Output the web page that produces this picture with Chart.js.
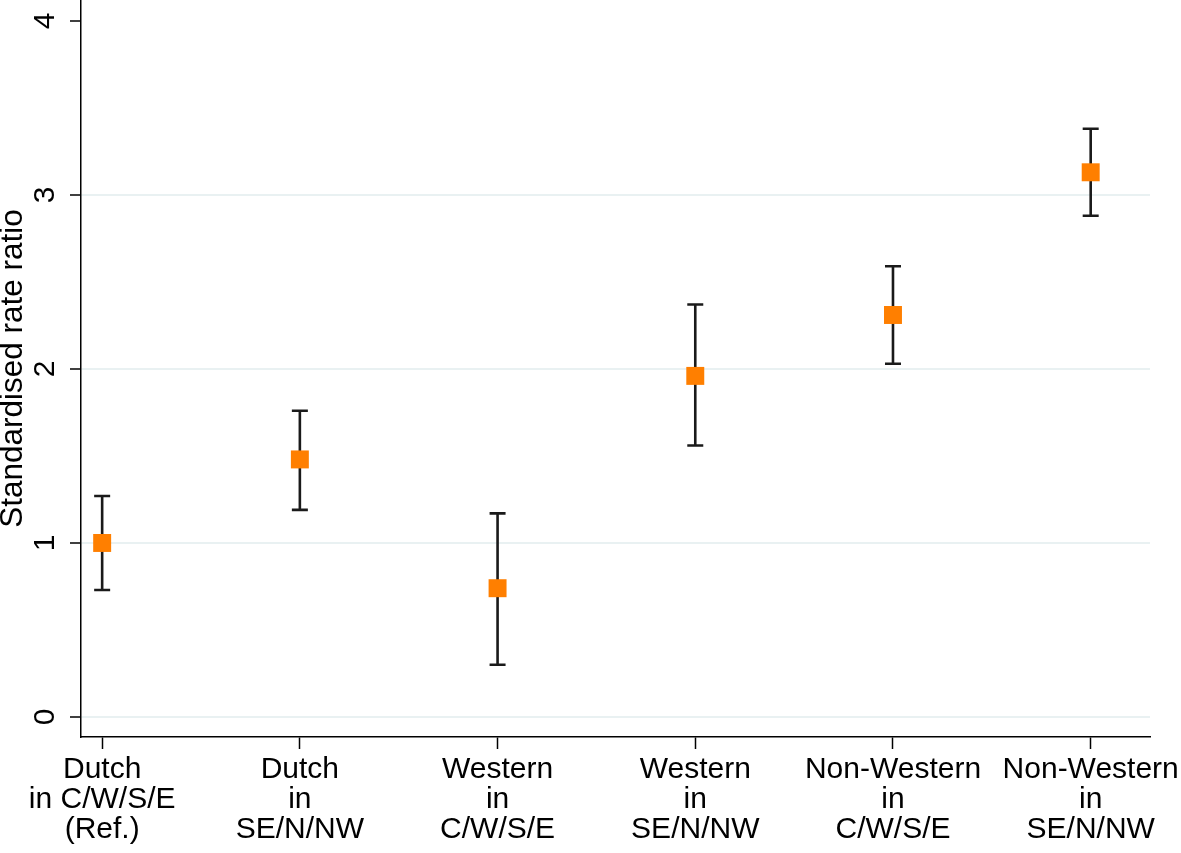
<!DOCTYPE html>
<html>
<head>
<meta charset="utf-8">
<script src="https://cdn.jsdelivr.net/npm/chart.js@4/dist/chart.umd.min.js"></script>
<style>
  html, body { margin: 0; padding: 0; background: #fff; }
  #wrap { width: 1181px; height: 853px; }
</style>
</head>
<body>
<div id="wrap"><canvas id="myChart"></canvas></div>
<script>
// groups along the x axis (one label line per array entry)
const categories = [
    ['Dutch', 'in C/W/S/E', '(Ref.)'],
    ['Dutch', 'in', 'SE/N/NW'],
    ['Western', 'in', 'C/W/S/E'],
    ['Western', 'in', 'SE/N/NW'],
    ['Non-Western', 'in', 'C/W/S/E'],
    ['Non-Western', 'in', 'SE/N/NW'],
];
// standardised rate ratios and 95% CI
const estimate = [1.00, 1.48, 0.74, 1.96, 2.31, 3.13];
const lower = [0.73, 1.19, 0.30, 1.56, 2.03, 2.88];
const upper = [1.27, 1.76, 1.17, 2.37, 2.59, 3.38];
const yTicks = [0, 1, 2, 3, 4];

const FONT = '"Liberation Sans", Arial, Helvetica, sans-serif';

const errorBars = {
    id: 'errorBars',
    beforeDatasetsDraw(chart) {
        const { ctx, scales: { x, y } } = chart;
        ctx.save();
        ctx.strokeStyle = '#1a1a1a';
        ctx.lineWidth = 2.6;
        ctx.lineCap = 'butt';
        estimate.forEach((_, i) => {
            const px = x.getPixelForValue(i);
            const lo = y.getPixelForValue(lower[i]);
            const hi = y.getPixelForValue(upper[i]);
            ctx.beginPath();
            ctx.moveTo(px, lo);
            ctx.lineTo(px, hi);
            ctx.moveTo(px - 8, lo);
            ctx.lineTo(px + 8, lo);
            ctx.moveTo(px - 8, hi);
            ctx.lineTo(px + 8, hi);
            ctx.stroke();
        });
        ctx.restore();
    },
};

// y tick labels turned 90 degrees (read bottom to top), centred on each tick
const rotatedYLabels = {
    id: 'rotatedYLabels',
    afterDraw(chart) {
        const { ctx, scales: { y } } = chart;
        ctx.save();
        ctx.fillStyle = '#000';
        ctx.font = '30px ' + FONT;
        ctx.textAlign = 'center';
        ctx.textBaseline = 'middle';
        y.ticks.forEach((t) => {
            ctx.save();
            ctx.translate(y.right - 35, y.getPixelForValue(t.value));
            ctx.rotate(-Math.PI / 2);
            ctx.fillText(String(t.value), 0, 0);
            ctx.restore();
        });
        ctx.restore();
    },
};

const ctx = document.getElementById('myChart').getContext('2d');

new Chart(ctx, {
    type: 'scatter',
    data: {
        datasets: [
            {
                data: estimate.map((v, i) => ({ x: i, y: v })),
                backgroundColor: '#ff7f00',
                borderWidth: 0,
                pointStyle: 'rect',
                pointRadius: 12.7,
                pointHoverRadius: 12.7,
            },
        ],
    },
    options: {
        responsive: true,
        maintainAspectRatio: false,
        animation: false,
        events: [],
        layout: { autoPadding: false, padding: { top: 0, right: 31, bottom: 0, left: 0 } },
        plugins: {
            legend: { display: false },
            tooltip: { enabled: false },
        },
        scales: {
            x: {
                type: 'linear',
                min: -0.107,
                max: 5.3,
                afterBuildTicks: (scale) => {
                    scale.ticks = categories.map((_, i) => ({ value: i }));
                },
                afterFit: (scale) => {
                    scale.height = 116;
                    scale.paddingLeft = 0;
                    scale.paddingRight = 0;
                },
                grid: {
                    drawOnChartArea: false,
                    drawTicks: true,
                    tickLength: 12,
                    tickColor: '#000',
                    tickWidth: 1.5,
                },
                border: { color: '#000', width: 1.5 },
                ticks: {
                    color: '#000',
                    padding: 6,
                    maxRotation: 0,
                    minRotation: 0,
                    font: { family: FONT, size: 30, lineHeight: 1.0 },
                    callback: (value) => categories[value],
                },
            },
            y: {
                min: -0.115,
                max: 4.12,
                afterBuildTicks: (scale) => {
                    scale.ticks = yTicks.map((v) => ({ value: v }));
                },
                afterFit: (scale) => {
                    scale.width = 81;
                    scale.paddingTop = 0;
                    scale.paddingBottom = 0;
                },
                grid: {
                    color: (c) => (c.tick && c.tick.value === 4 ? 'rgba(0,0,0,0)' : '#e9f1f2'),
                    lineWidth: 2,
                    drawTicks: true,
                    tickLength: 11,
                    tickColor: '#000',
                    tickWidth: 1.5,
                },
                border: { color: '#000', width: 1.5 },
                ticks: { display: false },
                title: {
                    display: true,
                    text: 'Standardised rate ratio',
                    color: '#000',
                    padding: 0,
                    font: { family: FONT, size: 31.5, lineHeight: 0.85 },
                },
            },
        },
    },
    plugins: [errorBars, rotatedYLabels],
});
</script>
</body>
</html>
